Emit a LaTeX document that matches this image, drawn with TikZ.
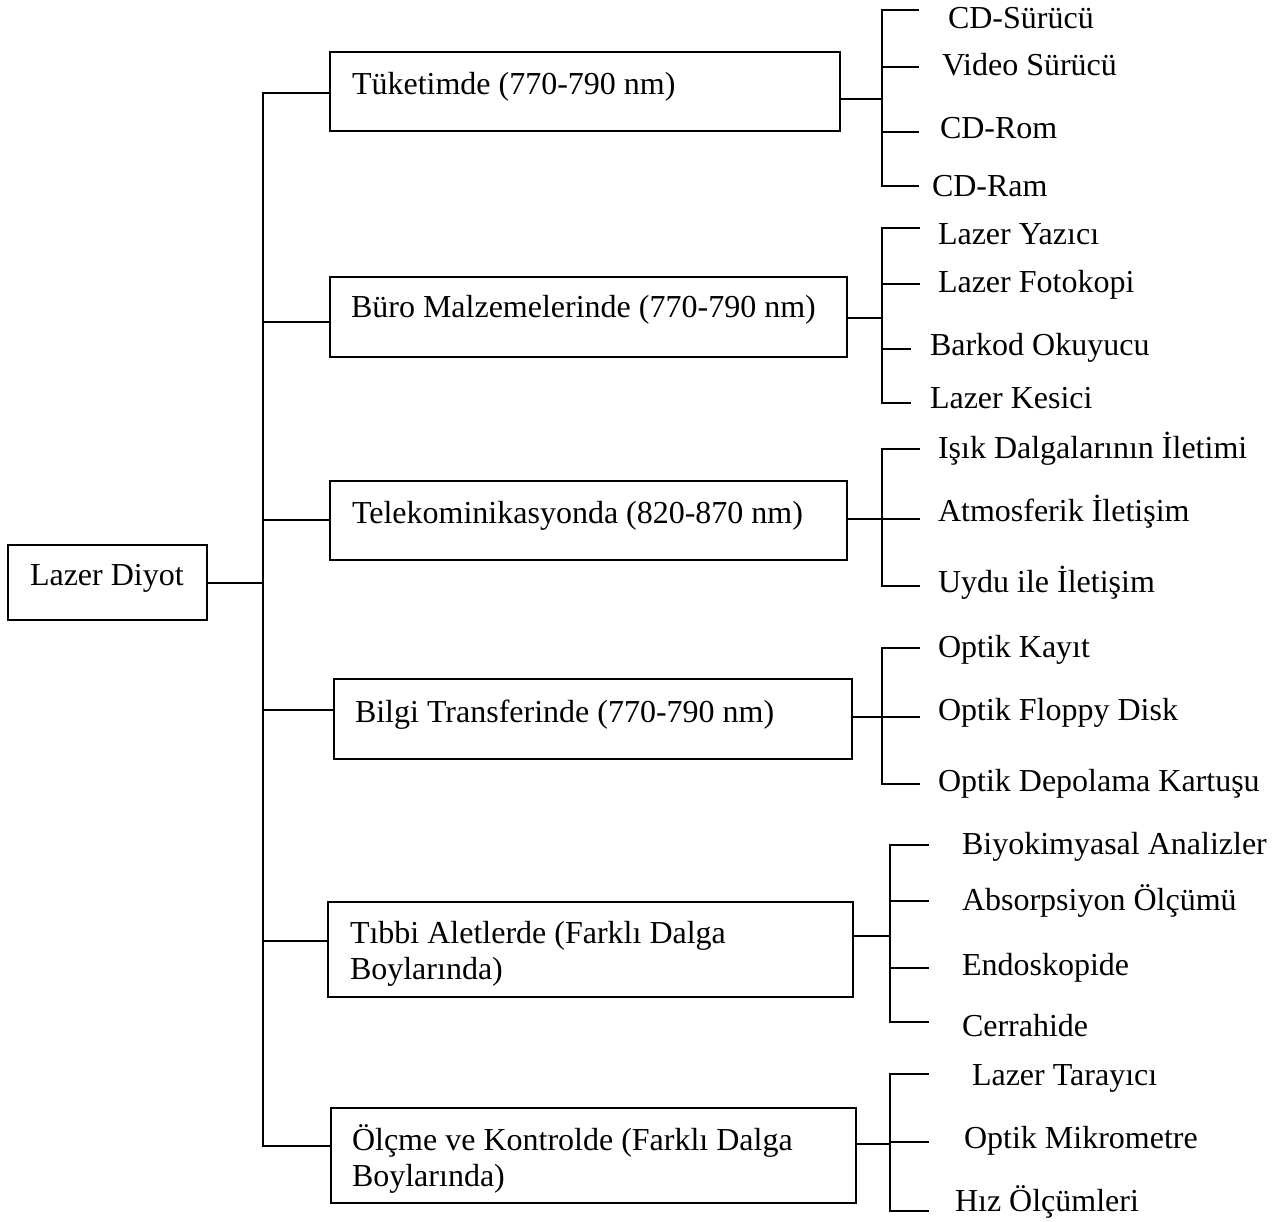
\documentclass[tikz,border=0pt]{standalone}
\usepackage{fontspec}
\setmainfont{Liberation Serif}
\begin{document}
\begin{tikzpicture}[x=1pt,y=-1pt,
  box/.style={draw, line width=2pt, inner sep=0pt, outer sep=0pt},
  lbl/.style={anchor=base west, inner sep=0pt, outer sep=0pt, font=\fontsize{32}{38}\selectfont},
  wire/.style={line width=2.2pt, line cap=rect}]
\useasboundingbox (0,0) rectangle (1288,1222);

% root
\node[box, minimum width=199, minimum height=75] (root) at (107.5,582.5) {};
\node[lbl] (troot) at (30,585) {Lazer Diyot};

% main boxes
\node[box, minimum width=510, minimum height=79] (b1) at (585,91.5) {};
\node[box, minimum width=517, minimum height=80] (b2) at (588.5,317) {};
\node[box, minimum width=517, minimum height=79] (b3) at (588.5,520.5) {};
\node[box, minimum width=518, minimum height=80] (b4) at (593,719) {};
\node[box, minimum width=525, minimum height=95] (b5) at (590.5,949.5) {};
\node[box, minimum width=525, minimum height=95] (b6) at (593.5,1155.5) {};

\node[lbl] (t1) at (352,94.5) {Tüketimde (770-790 nm)};
\node[lbl] (t2) at (351,318) {Büro Malzemelerinde (770-790 nm)};
\node[lbl] (t3) at (352,523) {Telekominikasyonda (820-870 nm)};
\node[lbl] (t4) at (355,722) {Bilgi Transferinde (770-790 nm)};
\node[lbl] (t5a) at (350,943) {Tıbbi Aletlerde (Farklı Dalga};
\node[lbl] (t5b) at (350,979) {Boylarında)};
\node[lbl] (t6a) at (352,1150) {Ölçme ve Kontrolde (Farklı Dalga};
\node[lbl] (t6b) at (352,1186) {Boylarında)};

% trunk
\coordinate (k1) at (263,93);
\coordinate (k2) at (263,322);
\coordinate (k3) at (263,520);
\coordinate (k4) at (263,710);
\coordinate (k5) at (263,941);
\coordinate (k6) at (263,1146);
\coordinate (k0) at (263,583);
\draw[wire] (k1) -- (k6);
\draw[wire] (root.east |- k0) -- (k0);
\foreach \i in {1,...,6} {\draw[wire] (k\i) -- (b\i.west |- k\i);}

% sub trunks
\coordinate (s1) at (882,99);
\coordinate (s2) at (882,318);
\coordinate (s3) at (882,519);
\coordinate (s4) at (882,717);
\coordinate (s5) at (890,936);
\coordinate (s6) at (890,1144);
\foreach \i in {1,...,6} {\draw[wire] (b\i.east |- s\i) -- (s\i);}

% group 1
\draw[wire] (918,10) -- (882,10) -- (882,186) -- (918,186);
\draw[wire] (882,67) -- (918,67);
\draw[wire] (882,132) -- (918,132);
\node[lbl] (l11) at (948,29) {CD-Sürücü};
\node[lbl] (l12) at (942,76) {Video Sürücü};
\node[lbl] (l13) at (940,139) {CD-Rom};
\node[lbl] (l14) at (932,197) {CD-Ram};

% group 2
\draw[wire] (919,228) -- (882,228) -- (882,403) -- (910,403);
\draw[wire] (882,284) -- (919,284);
\draw[wire] (882,349) -- (910,349);
\node[lbl] (l21) at (938,245) {Lazer Yazıcı};
\node[lbl] (l22) at (938,293) {Lazer Fotokopi};
\node[lbl] (l23) at (930,356) {Barkod Okuyucu};
\node[lbl] (l24) at (930,409) {Lazer Kesici};

% group 3
\draw[wire] (919,449) -- (882,449) -- (882,586) -- (919,586);
\draw[wire] (882,519) -- (919,519);
\node[lbl] (l31) at (938,458) {Işık Dalgalarının İletimi};
\node[lbl] (l32) at (938,521) {Atmosferik İletişim};
\node[lbl] (l33) at (938,592) {Uydu ile İletişim};

% group 4
\draw[wire] (919,648) -- (882,648) -- (882,784) -- (919,784);
\draw[wire] (882,717) -- (919,717);
\node[lbl] (l41) at (938,657) {Optik Kayıt};
\node[lbl] (l42) at (938,720) {Optik Floppy Disk};
\node[lbl] (l43) at (938,791) {Optik Depolama Kartuşu};

% group 5
\draw[wire] (928,845) -- (890,845) -- (890,1022) -- (928,1022);
\draw[wire] (890,901) -- (928,901);
\draw[wire] (890,968) -- (928,968);
\node[lbl] (l51) at (962,854) {Biyokimyasal Analizler};
\node[lbl] (l52) at (962,910) {Absorpsiyon Ölçümü};
\node[lbl] (l53) at (962,975) {Endoskopide};
\node[lbl] (l54) at (962,1036) {Cerrahide};

% group 6
\draw[wire] (928,1074) -- (890,1074) -- (890,1211) -- (928,1211);
\draw[wire] (890,1142) -- (928,1142);
\node[lbl] (l61) at (972,1085) {Lazer Tarayıcı};
\node[lbl] (l62) at (964,1148) {Optik Mikrometre};
\node[lbl] (l63) at (955,1211) {Hız Ölçümleri};
\end{tikzpicture}
\end{document}
